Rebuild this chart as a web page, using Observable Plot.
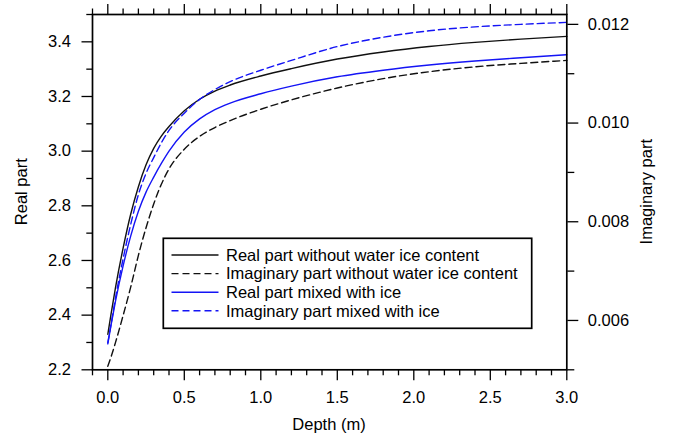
<!DOCTYPE html>
<html><head><meta charset="utf-8">
<script src="https://cdn.jsdelivr.net/npm/d3@7"></script>
<script src="https://cdn.jsdelivr.net/npm/@observablehq/plot@0.6"></script>
<style>
body{margin:0;background:#fff;}
#chart{width:679px;height:443px;}
</style>
</head><body><div id="chart"></div>
<script>
// Depth (m)
const depth = [0, 0.02, 0.05, 0.1, 0.15, 0.2, 0.25, 0.3, 0.35, 0.4, 0.5, 0.6, 0.7, 0.8, 1.0, 1.2, 1.5, 1.8, 2.1, 2.4, 2.7, 3.0];
// Real part without water ice content (left axis)
const realNoIce = [2.33, 2.40, 2.50, 2.645, 2.77, 2.87, 2.95, 3.01, 3.055, 3.09, 3.148, 3.19, 3.22, 3.242, 3.275, 3.302, 3.337, 3.363, 3.383, 3.398, 3.41, 3.42];
// Imaginary part without water ice content (right axis)
const imagNoIce = [0.00507, 0.00525, 0.00555, 0.00610, 0.00668, 0.00732, 0.00788, 0.00836, 0.00876, 0.00907, 0.00947, 0.00973, 0.00991, 0.01005, 0.01028, 0.01047, 0.01071, 0.01090, 0.01104, 0.01114, 0.01121, 0.01127];
// Real part mixed with ice (left axis)
const realIce = [2.295, 2.36, 2.45, 2.58, 2.69, 2.78, 2.85, 2.905, 2.955, 3.0, 3.07, 3.118, 3.152, 3.176, 3.21, 3.238, 3.272, 3.296, 3.315, 3.33, 3.342, 3.353];
// Imaginary part mixed with ice (right axis)
const imagIce = [0.00555, 0.00590, 0.00645, 0.00725, 0.00795, 0.00855, 0.00898, 0.00930, 0.00960, 0.00985, 0.01020, 0.01048, 0.01068, 0.01084, 0.01107, 0.01127, 0.01155, 0.01174, 0.01187, 0.01195, 0.01200, 0.01204];

const seriesNames = ["Real part without water ice content", "Imaginary part without water ice content", "Real part mixed with ice", "Imaginary part mixed with ice"];
const seriesColors = ["#111111", "#111111", "#1414f5", "#1414f5"];
const seriesDash = [null, "7,4", null, "7,4"];

const xMajor = [0, 0.5, 1.0, 1.5, 2.0, 2.5, 3.0];
const xMinor = d3.range(-1, 31).map(i => i / 10).filter(v => Math.abs(v * 2 - Math.round(v * 2)) > 1e-6);
const leftMajor = [2.2, 2.4, 2.6, 2.8, 3.0, 3.2, 3.4];
const leftMinor = [2.3, 2.5, 2.7, 2.9, 3.1, 3.3, 3.5];
const rightMajor = [0.006, 0.008, 0.010, 0.012];
const rightMinor = [0.005, 0.007, 0.009, 0.011];

const L0 = 2.2, L1 = 3.5, R0 = 0.005, R1 = 0.0122;
const r2l = r => L0 + (r - R0) / (R1 - R0) * (L1 - L0);
const l2r = l => R0 + (l - L0) / (L1 - L0) * (R1 - R0);

const rows = [];
const cols = [realNoIce, imagNoIce, realIce, imagIce];
const isImag = [false, true, false, true];
cols.forEach((vals, s) => vals.forEach((v, i) => rows.push({series: s, depth: depth[i], y: isImag[s] ? r2l(v) : v})));

const lineMarks = [0, 1, 2, 3].map(s => Plot.line(rows.filter(d => d.series === s), {
  x: "depth", y: "y", stroke: seriesColors[s], strokeWidth: 1.4,
  strokeDasharray: seriesDash[s] || undefined, curve: "monotone-x"
}));

const FS = "16.5px";
const tickStyle = {strokeWidth: 1.3, label: null};
const plot = Plot.plot({
  width: 679, height: 443,
  marginLeft: 92, marginRight: 112.7, marginTop: 14, marginBottom: 73.7,
  x: {domain: [-0.1, 3.0]},
  y: {domain: [L0, L1]},
  style: {fontFamily: "'Liberation Sans', Arial, sans-serif", fontSize: FS, color: "black", background: "white", overflow: "visible"},
  marks: [
    ...lineMarks,
    Plot.axisX(xMajor, {...tickStyle, anchor: "bottom", tickSize: 11, tickPadding: 10, tickFormat: d3.format(".1f")}),
    Plot.axisX(xMinor, {...tickStyle, anchor: "bottom", tickSize: 6, tickFormat: () => ""}),
    Plot.axisX(xMajor, {...tickStyle, anchor: "top", tickSize: 11, tickFormat: () => ""}),
    Plot.axisX(xMinor, {...tickStyle, anchor: "top", tickSize: 6.5, tickFormat: () => ""}),
    Plot.axisY(leftMajor, {...tickStyle, anchor: "left", tickSize: 10.5, tickPadding: 11, tickFormat: d3.format(".1f")}),
    Plot.axisY(leftMinor, {...tickStyle, anchor: "left", tickSize: 5.7, tickFormat: () => ""}),
    Plot.axisY(rightMajor.map(r2l), {...tickStyle, anchor: "right", tickSize: 11, tickPadding: 10, tickFormat: v => l2r(v).toFixed(3)}),
    Plot.axisY(rightMinor.map(r2l), {...tickStyle, anchor: "right", tickSize: 7, tickFormat: () => ""}),
    Plot.frame({stroke: "black", strokeWidth: 1.7})
  ]
});
document.getElementById("chart").appendChild(plot);

// Axis titles and legend
const svg = d3.select(plot);
const font = "'Liberation Sans', Arial, sans-serif";
svg.append("text").attr("x", 329).attr("y", 430).attr("text-anchor", "middle")
  .attr("font-family", font).attr("font-size", FS).attr("fill", "black").text("Depth (m)");
svg.append("text").attr("transform", "translate(27,191.7) rotate(-90)").attr("text-anchor", "middle")
  .attr("font-family", font).attr("font-size", FS).attr("fill", "black").text("Real part");
svg.append("text").attr("transform", "translate(652,191.7) rotate(-90)").attr("text-anchor", "middle")
  .attr("font-family", font).attr("font-size", FS).attr("fill", "black").text("Imaginary part");

const lg = svg.append("g");
lg.append("rect").attr("x", 163.3).attr("y", 238.3).attr("width", 368.4).attr("height", 90)
  .attr("fill", "white").attr("stroke", "black").attr("stroke-width", 1.7);
seriesNames.forEach((name, i) => {
  const cy = 255 + i * 18.6;
  lg.append("line").attr("x1", 171.5).attr("x2", 218.5).attr("y1", cy).attr("y2", cy)
    .attr("stroke", seriesColors[i]).attr("stroke-width", 1.4)
    .attr("stroke-dasharray", seriesDash[i]);
  lg.append("text").attr("x", 226).attr("y", cy).attr("dy", "0.35em").attr("text-anchor", "start")
    .attr("font-family", font).attr("font-size", FS).attr("fill", "black").text(name);
});
</script>
</body></html>
